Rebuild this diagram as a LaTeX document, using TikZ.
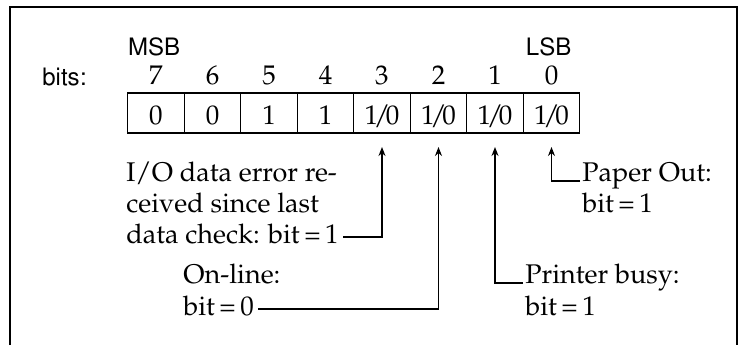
\documentclass[tikz,border=0pt]{standalone}
\usepackage[T1]{fontenc}
\renewcommand{\rmdefault}{ppl}
\renewcommand{\sfdefault}{phv}
\usetikzlibrary{positioning, arrows.meta, calc}
\newcommand{\onezero}{1\kern-2.2pt/\kern-2.2pt0}

\begin{document}
\begin{tikzpicture}[
  x=0.5pt, y=-0.5pt,
  >={Stealth[length=4.5pt, width=3.5pt]},
  every node/.style={font=\fontsize{13.5}{15.5}\selectfont, inner sep=0pt},
  cell/.style  = {draw, line width=0.6pt, outer sep=0pt, minimum width=28.25pt, minimum height=20pt, text height=11.5pt, text depth=0pt},
  bitno/.style = {anchor=base},
  lbl/.style   = {anchor=base west},
  sflbl/.style = {font=\sffamily\fontsize{12}{14}\selectfont},
  arr/.style   = {->, line width=0.8pt, shorten >=7pt},
]
  \useasboundingbox (0,0) rectangle (741,345);
  \draw[line width=1.2pt] (10,345) |- (737,7) -- (737,345);

  % the status byte
  \node[cell] (b7) at (156,113) {0};
  \foreach \n/\p/\v in {6/7/0,5/6/1,4/5/1,3/4/\onezero,2/3/\onezero,1/2/\onezero,0/1/\onezero}
     \node[cell, right=0pt of b\p] (b\n) {\v};
  \foreach \n in {7,...,0}\node[bitno] (n\n) at ($(b\n.north)+(0,-9)$) {\n};

  \node[sflbl, anchor=base west] (msb)  at ($(b7.north west)+(0,-38)$) {MSB};
  \node[sflbl, anchor=base east] (lsb)  at ($(b0.north east)+(-8,-38)$) {LSB};
  \node[sflbl, anchor=base west] (bits) at (42,85) {bits:};

  % notes
  \node[lbl] (ioerr)   at (126,181) {I/O data error re-};
  \node[lbl] (ioerr2)  at (126,212) {ceived since last};
  \node[lbl] (ioerr3)  at (126,243) {data check: bit\,=\,1};
  \node[lbl] (online)  at (183,283) {On-line:};
  \node[lbl] (online2) at (183,315) {bit\,=\,0};
  \node[lbl] (busy)    at (525,283) {Printer busy:};
  \node[lbl] (busy2)   at (525,315) {bit\,=\,1};
  \node[lbl] (paper)   at (582,181) {Paper Out:};
  \node[lbl] (paper2)  at (582,212) {bit\,=\,1};

  \foreach \a/\b in {ioerr3/b3,online2/b2}
     \draw[arr, shorten <=2pt]([yshift=3pt]\a.base east) -| (\b.south);
  \foreach \a/\b in {busy/b1,paper/b0}
     \draw[arr]([xshift=-1pt]\a.base west) -| (\b.south);
\end{tikzpicture}
\end{document}
